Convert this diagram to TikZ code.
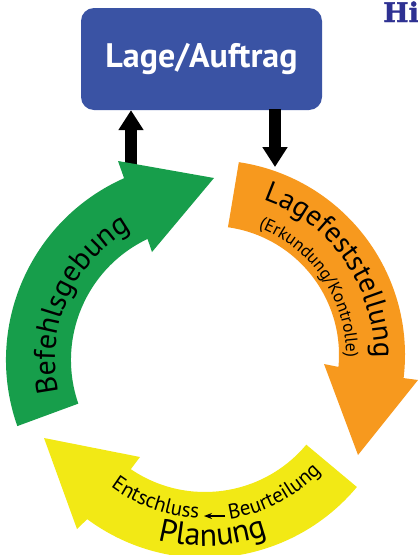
\documentclass[tikz,border=0pt]{standalone}
\usepackage{fontspec}
\setmainfont{PT Sans}
\newfontfamily\slabfont{DejaVu Serif}[BoldFont={DejaVu Serif Bold},BoldFeatures={FakeBold=1.5}]
\usetikzlibrary{arrows.meta,decorations.text,positioning,calc}
\definecolor{boxblue}{HTML}{3A53A4}
\definecolor{cyclegreen}{HTML}{179E4B}
\definecolor{cycleorange}{HTML}{F7991E}
\definecolor{cycleyellow}{HTML}{F2E915}
\definecolor{hinavy}{HTML}{2E3192}
\newcommand{\sz}[1]{\fontsize{#1}{#1}\selectfont}
\tikzset{
  x=1pt,y=1pt,
  fatarrow/.style={line width=11.5pt,black,-{Triangle[length=20pt,width=24pt]}},
  curved/.style 2 args={decorate,decoration={text along path,text align=center,
    text={|\sz{#1}|#2}}},
}
\begin{document}
\begin{tikzpicture}
\clip (0,0) rectangle (418,-555);
\path[use as bounding box] (0,0) rectangle (418,-555);
\coordinate (cg) at (205,-360);
\coordinate (co) at (210,-355);

\node[fill=boxblue,rounded corners=13pt,minimum width=241pt,minimum height=102pt,inner sep=0pt,
      text=white,font=\sz{34}\bfseries] (box) at (201.5,-59) {Lage/Auftrag};
\node[anchor=base west,inner sep=0pt,text=hinavy,font=\slabfont\bfseries\sz{27}] (hi) at (383,-22) {Hi};

\coordinate (upstart) at (131,-170);
\coordinate (downend) at (275,-167);
\draw[fatarrow] (upstart) -- (upstart |- box.south);
\draw[fatarrow,shorten <=-1pt] (box.south -| downend) -- (downend);

% Befehlsgebung
\fill[cyclegreen] (cg) ++(199.4:199) arc (199.4:114:199) -- (118,-161) -- (214,-178) -- (152,-252)
  -- ($(cg)+(115.4:134)$) arc (115.4:199:134) -- cycle;
% Lagefeststellung
\fill[cycleorange] (co) ++(81.5:195) arc (81.5:-6.8:195) -- (418,-380) -- (358,-455) -- (324,-364)
  -- ($(co)+(-5.3:129)$) arc (-5.3:82:129) -- cycle;
% Planung
\fill[cycleyellow] (cg) ++(-39.9:198) arc (-39.9:-126.5:198) -- (77,-529) -- (44,-438) -- (140,-457)
  -- ($(cg)+(-124.2:132)$) arc (-124.2:-39.9:132) -- cycle;

\path[curved={30}{Befehlsgebung}] (cg) ++(192:150) arc (192:120:150);
\path[curved={29}{Lagefeststellung}] (co) ++(73:164) arc (73:-3:164);
\path[curved={17.5}{(Erkundung/Kontrolle)}] (co) ++(72:136) arc (72:-4:136);
\path[curved={32}{Planung}] (cg) ++(-110:186) arc (-110:-65:186);
\path[curved={21}{Entschluss}] (cg) ++(-127:158) arc (-127:-92:158);
\path[curved={21}{Beurteilung}] (cg) ++(-85:161) arc (-85:-40:161);

\coordinate (smallstart) at (225,-516);
\coordinate (smallend) at (204,-516);
\draw[black,line width=1.2pt,-{Stealth[length=8pt,width=6pt]}] (smallstart) -- (smallend);
\end{tikzpicture}
\end{document}
